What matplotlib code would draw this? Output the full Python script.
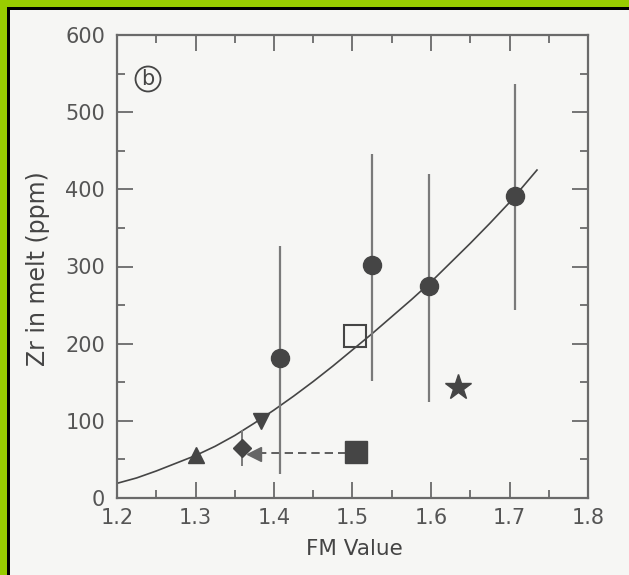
import matplotlib
matplotlib.use('Agg')
import matplotlib.pyplot as plt
from matplotlib.patches import Rectangle
from matplotlib.ticker import MultipleLocator

# fitted curve
curve_fm = [1.20, 1.225, 1.25, 1.275, 1.30, 1.325, 1.35, 1.375, 1.40, 1.425, 1.45, 1.475,
            1.50, 1.525, 1.55, 1.575, 1.60, 1.625, 1.65, 1.675, 1.70, 1.7175, 1.735]
curve_zr = [19, 26, 35, 45, 55, 67, 81, 97, 114, 132, 151, 171,
            192, 213, 235, 257, 280, 305, 330, 356, 383, 404, 425]

# filled circles with error bars
circ_fm = [1.408, 1.525, 1.597, 1.707]
circ_zr = [182, 302, 275, 392]
circ_lo = [31, 151, 125, 243]
circ_hi = [327, 446, 420, 536]

# single symbols
tri_up = (1.300, 56)
tri_down = (1.383, 100)
diam = (1.359, 65)
diam_lo, diam_hi = 41, 88
arrow = (1.374, 57)
open_sq = (1.503, 210)
fill_sq = (1.505, 60)
star = (1.635, 144)
dash_fm = [1.38, 1.495]
dash_zr = [58, 58]

dark = '#454545'
grey = '#6a6a6a'
bg = '#f6f6f4'

fig = plt.figure(figsize=(6.29, 5.75), dpi=100, facecolor=bg)
ax = fig.add_axes([117/629, 1-498/575, 471/629, 463/575])
ax.set_facecolor(bg)

ax.plot(curve_fm, curve_zr, color=dark, lw=1.2, zorder=2)

yerr = [[z - l for z, l in zip(circ_zr, circ_lo)], [h - z for z, h in zip(circ_zr, circ_hi)]]
ax.errorbar(circ_fm, circ_zr, yerr=yerr, fmt='o', ms=13, color=dark, ecolor='#7a7a7a',
            elinewidth=1.6, capsize=0, zorder=3)

ax.errorbar([diam[0]], [diam[1]], yerr=[[diam[1]-diam_lo], [diam_hi-diam[1]]], fmt='D', ms=9,
            color=dark, ecolor='#7a7a7a', elinewidth=1.4, capsize=0, zorder=3)
ax.plot(dash_fm, dash_zr, ls=(0, (5, 3)), color=dark, lw=1.2, zorder=2)
ax.plot(*arrow, marker='<', ms=10, color='#666666', ls='none', zorder=3)
ax.plot(*tri_up, marker='^', ms=12, color=dark, ls='none', zorder=3)
ax.plot(*tri_down, marker='v', ms=12, color=dark, ls='none', zorder=3)
ax.plot(*open_sq, marker='s', ms=16, mfc='none', mec=dark, mew=1.5, ls='none', zorder=3)
ax.plot(*fill_sq, marker='s', ms=16, color=dark, ls='none', zorder=3)
ax.plot(*star, marker='*', ms=19, color=dark, ls='none', zorder=3)

ax.text(1.2395, 543, 'b', fontsize=15, color=dark, ha='center', va='center',
        bbox=dict(boxstyle='circle,pad=0.12', fc='none', ec=dark, lw=1.3))

ax.set_xlim(1.2, 1.8)
ax.set_ylim(0, 600)
ax.xaxis.set_major_locator(MultipleLocator(0.1))
ax.xaxis.set_minor_locator(MultipleLocator(0.05))
ax.yaxis.set_major_locator(MultipleLocator(100))
ax.yaxis.set_minor_locator(MultipleLocator(50))
ax.set_xticklabels(['%.1f' % v for v in ax.get_xticks()])
ax.tick_params(which='both', direction='in', top=True, right=True, color=grey, width=1.3,
               labelcolor='#555555', labelsize=15)
ax.tick_params(which='major', length=11.5)
ax.tick_params(which='minor', length=5.8)
ax.tick_params(axis='x', pad=7)
ax.tick_params(axis='y', pad=8.5)
for s in ax.spines.values():
    s.set_color(grey)
    s.set_linewidth(1.6)

fig.text(38/629, 1-269/575, 'Zr in melt (ppm)', rotation=90, fontsize=17, color='#444444',
         ha='center', va='center')
fig.text(354/629, 1-549/575, 'FM Value', fontsize=15.5, color='#444444', ha='center', va='center')

# green frame with black inner line, top and left only
fig.patches.append(Rectangle((0, 1-7/575), 1, 7/575, transform=fig.transFigure, fc='#99cc00', ec='none'))
fig.patches.append(Rectangle((0, 0), 7/629, 1, transform=fig.transFigure, fc='#99cc00', ec='none'))
fig.patches.append(Rectangle((7/629, 1-9.5/575), 1, 2.5/575, transform=fig.transFigure, fc='black', ec='none'))
fig.patches.append(Rectangle((7/629, 0), 2.5/629, 1-7/575, transform=fig.transFigure, fc='black', ec='none'))

fig.savefig('out.png', dpi=100, facecolor=bg)
